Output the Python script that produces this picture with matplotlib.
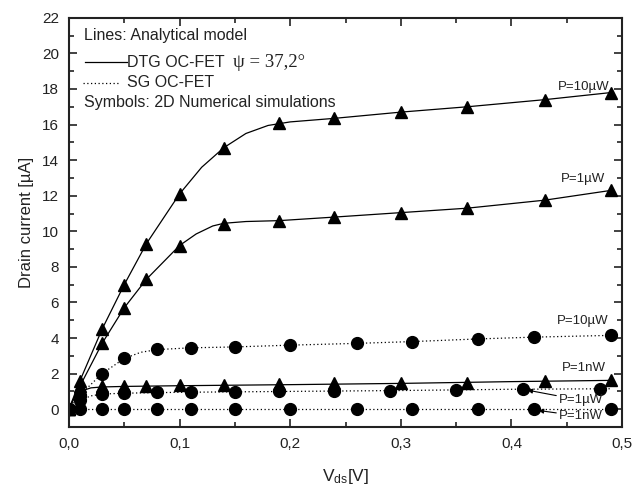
import numpy as np
import matplotlib
matplotlib.use('Agg')
import matplotlib.pyplot as plt
from matplotlib.ticker import MultipleLocator, FuncFormatter

plt.rcParams['font.family'] = ['Liberation Sans', 'DejaVu Sans']
plt.rcParams['mathtext.fontset'] = 'custom'
plt.rcParams['mathtext.rm'] = 'Liberation Sans'
plt.rcParams['mathtext.it'] = 'Liberation Sans'

# simulation points (symbols)
x_tri = [0.0, 0.01, 0.03, 0.05, 0.07, 0.10, 0.14, 0.19, 0.24, 0.30, 0.36, 0.43, 0.49]
dtg_10u = [0.0, 1.6, 4.5, 7.0, 9.3, 12.1, 14.7, 16.1, 16.35, 16.7, 17.0, 17.4, 17.8]
dtg_1u = [0.0, 1.3, 3.7, 5.7, 7.3, 9.2, 10.4, 10.6, 10.8, 11.05, 11.3, 11.75, 12.3]
dtg_1n = [0.0, 1.0, 1.3, 1.3, 1.3, 1.35, 1.35, 1.4, 1.45, 1.5, 1.5, 1.6, 1.65]

x_circ = [0.0, 0.01, 0.03, 0.05, 0.08, 0.11, 0.15, 0.20, 0.26, 0.31, 0.37, 0.42, 0.49]
sg_10u = [0.0, 0.8, 2.0, 2.85, 3.4, 3.45, 3.5, 3.6, 3.7, 3.8, 3.95, 4.05, 4.15]
x_circ2 = [0.0, 0.01, 0.03, 0.05, 0.08, 0.11, 0.15, 0.19, 0.24, 0.29, 0.35, 0.41, 0.48]
sg_1u = [0.0, 0.5, 0.85, 0.9, 0.95, 0.95, 0.95, 1.0, 1.05, 1.05, 1.1, 1.15, 1.15]
sg_1n = [0.0] * 13

# analytical model curves
xl_dtg_10u = [0.0, 0.01, 0.03, 0.05, 0.07, 0.10, 0.12, 0.14, 0.16, 0.18, 0.20, 0.24, 0.30, 0.36, 0.43, 0.49]
yl_dtg_10u = [0.0, 1.6, 4.5, 7.0, 9.3, 12.1, 13.6, 14.7, 15.5, 15.95, 16.15, 16.35, 16.7, 17.0, 17.4, 17.8]
xl_dtg_1u = [0.0, 0.01, 0.03, 0.05, 0.07, 0.10, 0.115, 0.13, 0.14, 0.16, 0.19, 0.24, 0.30, 0.36, 0.43, 0.49]
yl_dtg_1u = [0.0, 1.3, 3.7, 5.7, 7.3, 9.2, 9.85, 10.3, 10.45, 10.55, 10.6, 10.8, 11.05, 11.3, 11.75, 12.3]
xl_dtg_1n = [0.0, 0.005, 0.01, 0.02, 0.03, 0.05, 0.10, 0.20, 0.30, 0.40, 0.49]
yl_dtg_1n = [0.0, 0.7, 1.0, 1.2, 1.25, 1.28, 1.32, 1.38, 1.45, 1.55, 1.62]
xl_sg_10u = [0.0, 0.01, 0.03, 0.05, 0.065, 0.08, 0.11, 0.15, 0.20, 0.26, 0.31, 0.37, 0.42, 0.49]
yl_sg_10u = [0.0, 0.8, 2.0, 2.85, 3.2, 3.35, 3.45, 3.5, 3.6, 3.7, 3.8, 3.95, 4.05, 4.15]
xl_sg_1u = [0.0, 0.01, 0.02, 0.03, 0.05, 0.10, 0.20, 0.30, 0.40, 0.49]
yl_sg_1u = [0.0, 0.5, 0.75, 0.85, 0.9, 0.95, 1.0, 1.05, 1.12, 1.15]
xl_sg_1n = [0.0, 0.49]
yl_sg_1n = [0.0, 0.0]

fig = plt.figure(figsize=(6.44, 4.9), dpi=100)
ax = fig.add_axes([0.107, 0.1286, 0.859, 0.835])

lw = 0.9
ax.plot(xl_dtg_10u, yl_dtg_10u, '-', color='k', lw=lw)
ax.plot(xl_dtg_1u, yl_dtg_1u, '-', color='k', lw=lw)
ax.plot(xl_dtg_1n, yl_dtg_1n, '-', color='k', lw=lw)
for xs, ys in [(xl_sg_10u, yl_sg_10u), (xl_sg_1u, yl_sg_1u), (xl_sg_1n, yl_sg_1n)]:
    ax.plot(xs, ys, color='k', lw=0.9, linestyle=(0, (1, 2)))

for ys in [dtg_10u, dtg_1u, dtg_1n]:
    ax.plot(x_tri, ys, '^', color='k', ms=9, mec='k')
ax.plot(x_circ, sg_10u, 'o', color='k', ms=8.5)
ax.plot(x_circ2, sg_1u, 'o', color='k', ms=8.5)
ax.plot(x_circ, sg_1n, 'o', color='k', ms=8.5)

# curve labels
fs = 9.5
ax.text(0.489, 18.1, u'P=10\u00b5W', ha='right', va='center', fontsize=fs, color='#222')
ax.text(0.485, 12.95, u'P=1\u00b5W', ha='right', va='center', fontsize=fs, color='#222')
ax.text(0.488, 4.95, u'P=10\u00b5W', ha='right', va='center', fontsize=fs, color='#222')
ax.text(0.485, 2.3, u'P=1nW', ha='right', va='center', fontsize=fs, color='#222')
ax.annotate(u'P=1\u00b5W', xy=(0.412, 1.1), xytext=(0.443, 0.5), ha='left', va='center',
            fontsize=fs, color='#222',
            arrowprops=dict(arrowstyle='-|>', color='k', lw=0.8, mutation_scale=7,
                            shrinkA=0, shrinkB=2))
ax.annotate(u'P=1nW', xy=(0.422, -0.05), xytext=(0.443, -0.4), ha='left', va='center',
            fontsize=fs, color='#222',
            arrowprops=dict(arrowstyle='-|>', color='k', lw=0.8, mutation_scale=7,
                            shrinkA=0, shrinkB=2))

# legend block
lfs = 11.5
tr = ax.transAxes
ax.text(0.027, 0.958, 'Lines: Analytical model', transform=tr, fontsize=lfs, va='center', color='#222')
ax.plot([0.029, 0.105], [0.892, 0.892], '-', color='k', lw=lw, transform=tr)
ax.text(0.105, 0.892, 'DTG OC-FET', transform=tr, fontsize=lfs, va='center', color='#222')
ax.text(0.297, 0.892, u'\u03c8 = 37,2\u00b0', transform=tr, fontsize=13.5, va='center',
        family=['Liberation Serif', 'DejaVu Serif'], color='#222')
ax.plot([0.025, 0.092], [0.841, 0.841], color='k', lw=0.9, linestyle=(0, (1, 2)), transform=tr)
ax.text(0.105, 0.841, 'SG OC-FET', transform=tr, fontsize=lfs, va='center', color='#222')
ax.text(0.027, 0.792, 'Symbols: 2D Numerical simulations', transform=tr, fontsize=lfs,
        va='center', color='#222')

ax.set_xlim(0, 0.5)
ax.set_ylim(-1, 22)
ax.xaxis.set_major_locator(MultipleLocator(0.1))
ax.xaxis.set_minor_locator(MultipleLocator(0.05))
ax.yaxis.set_major_locator(MultipleLocator(2))
ax.yaxis.set_minor_locator(MultipleLocator(1))
ax.xaxis.set_major_formatter(FuncFormatter(lambda v, p: ('%.1f' % v).replace('.', ',')))
ax.yaxis.set_major_formatter(FuncFormatter(lambda v, p: '%d' % v))
ax.tick_params(which='both', direction='in', top=True, right=True, width=1.2, labelsize=11,
               colors='#222')
ax.tick_params(which='major', length=6, pad=7)
ax.tick_params(which='minor', length=3.5)
for s in ax.spines.values():
    s.set_linewidth(1.5)
    s.set_color('#222')

ax.set_xlabel(r'V$_{\mathrm{ds}}$[V]', fontsize=12.5, labelpad=12, color='#222')
ax.set_ylabel(u'Drain current [\u00b5A]', fontsize=12, labelpad=6, color='#222')

fig.savefig('out.png', dpi=100)
